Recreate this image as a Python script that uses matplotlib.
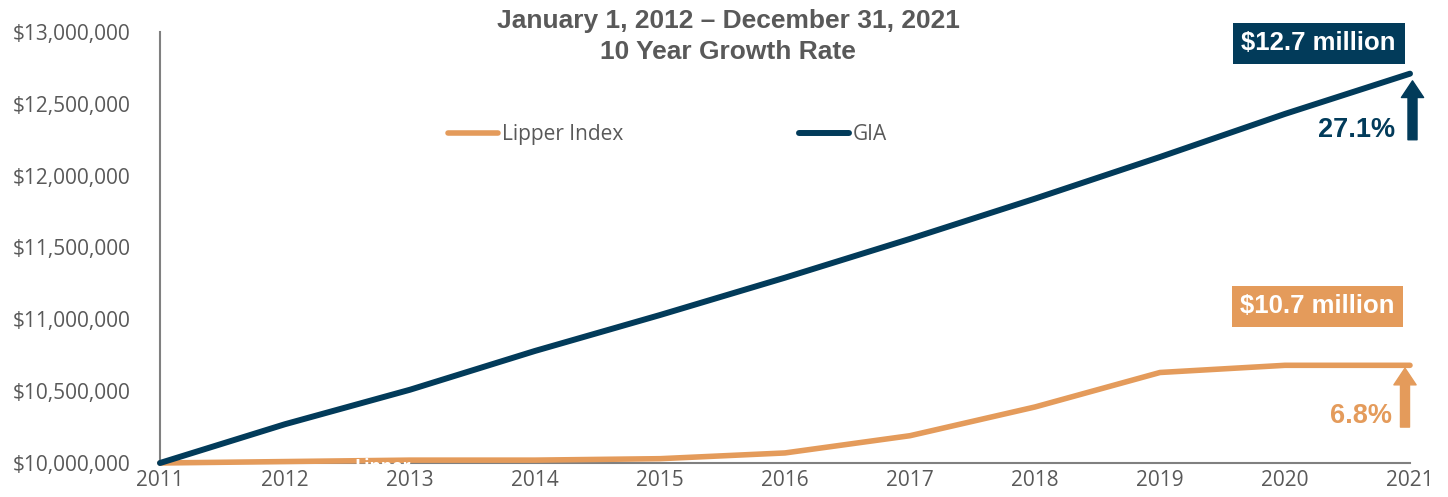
import matplotlib
matplotlib.use("Agg")
import matplotlib.pyplot as plt
from matplotlib.ticker import FuncFormatter
from matplotlib.transforms import Bbox, TransformedBbox

years = [2011, 2012, 2013, 2014, 2015, 2016, 2017, 2018, 2019, 2020, 2021]
gia = [10.00e6, 10.27e6, 10.51e6, 10.78e6, 11.03e6, 11.29e6, 11.56e6, 11.84e6, 12.13e6, 12.43e6, 12.71e6]
lipper = [10.00e6, 10.01e6, 10.02e6, 10.02e6, 10.03e6, 10.07e6, 10.19e6, 10.39e6, 10.63e6, 10.68e6, 10.68e6]
yticks = [10.0e6, 10.5e6, 11.0e6, 11.5e6, 12.0e6, 12.5e6, 13.0e6]
title_text = "January 1, 2012 \u2013 December 31, 2021\n10 Year Growth Rate"
gia_label = "$12.7 million"
lipper_label = "$10.7 million"
gia_growth = "27.1%"
lipper_growth = "6.8%"

NAVY = "#023B5A"
ORANGE = "#E49B5B"
GRAY = "#595959"
AXIS = "#808080"

fig = plt.figure(figsize=(14.48, 4.97), dpi=100)
ax = fig.add_axes([160/1448, 34/497, 1250/1448, 431/497])

ax.plot(years, lipper, color=ORANGE, lw=4.0, solid_capstyle="round", label="Lipper Index", clip_on=False, zorder=3)
ax.plot(years, gia, color=NAVY, lw=4.3, solid_capstyle="round", label="GIA", clip_on=False, zorder=3)

ax.set_xlim(2011, 2021)
ax.set_ylim(10.0e6, 13.0e6)
ax.set_xticks(years)
ax.set_yticks(yticks)
ax.yaxis.set_major_formatter(FuncFormatter(lambda v, p: "${:,.0f}".format(v)))

for s in ["top", "right"]:
    ax.spines[s].set_visible(False)
for s in ["left", "bottom"]:
    ax.spines[s].set_color(AXIS)
    ax.spines[s].set_linewidth(1.5)
ax.tick_params(axis="y", length=0, pad=21, labelsize=15, labelcolor=GRAY)
ax.tick_params(axis="x", length=0, pad=5, labelsize=15, labelcolor=GRAY)
for lab in ax.get_xticklabels() + ax.get_yticklabels():
    lab.set_fontfamily("Open Sans")

fig.text(728/1448, 1 - 9/497, title_text, ha="center", va="top", fontsize=19,
         fontweight="bold", color=GRAY, family="Liberation Sans", linespacing=1.38)

leg = ax.legend(loc="center", bbox_to_anchor=(0.406, 0.762), ncol=2, frameon=False,
                handlelength=2.4, handletextpad=0.2, columnspacing=8.4, borderpad=0,
                prop={"family": "Open Sans", "size": 15})
for t in leg.get_texts():
    t.set_color(GRAY)
for h in leg.get_lines():
    h.set_solid_capstyle("round")

# value boxes
ax.text(2020.27, 12.92e6, gia_label, ha="center", va="center", fontsize=18.5, fontweight="bold",
        color="white", family="Liberation Sans",
        bbox=dict(boxstyle="square,pad=0.34", fc=NAVY, ec="none"), zorder=6)
ax.text(2020.26, 11.09e6, lipper_label, ha="center", va="center", fontsize=18.5, fontweight="bold",
        color="white", family="Liberation Sans",
        bbox=dict(boxstyle="square,pad=0.34", fc=ORANGE, ec="none"), zorder=6)

# growth arrows
ax.annotate("", xy=(2021.02, 12.66e6), xytext=(2021.02, 12.25e6),
            arrowprops=dict(width=6.5, headwidth=16, headlength=12, color=NAVY, shrink=0),
            annotation_clip=False, zorder=6)
ax.annotate("", xy=(2020.96, 10.66e6), xytext=(2020.96, 10.25e6),
            arrowprops=dict(width=6.5, headwidth=16, headlength=12, color=ORANGE, shrink=0),
            annotation_clip=False, zorder=6)
ax.text(2020.57, 12.32e6, gia_growth, ha="center", va="center", fontsize=19.5, fontweight="bold",
        color=NAVY, family="Liberation Sans")
ax.text(2020.61, 10.33e6, lipper_growth, ha="center", va="center", fontsize=19.5, fontweight="bold",
        color=ORANGE, family="Liberation Sans")

# stray white label overlapping the baseline (only its top shows over the lines)
stray = ax.text(2012.78, 9.972e6, "Lipper", ha="center", va="center", fontsize=13, fontweight="bold",
                color="white", family="Open Sans", zorder=7)
stray.set_clip_box(TransformedBbox(Bbox([[2012.0, 9.955e6], [2014.0, 10.1e6]]), ax.transData))
stray.set_clip_on(True)

fig.savefig("out.png", dpi=100)
